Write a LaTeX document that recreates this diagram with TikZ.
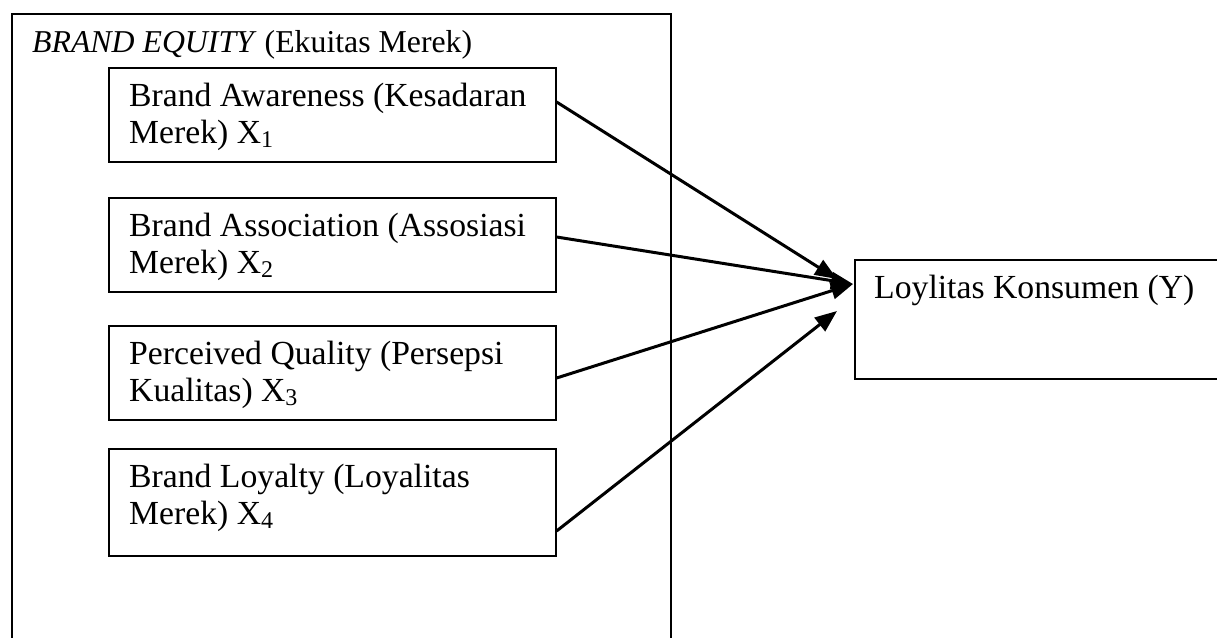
\documentclass[tikz,border=0pt]{standalone}
\usepackage{fontspec}
\setmainfont{Liberation Serif}
\usetikzlibrary{arrows.meta,calc}
\newcommand{\subx}[1]{\raisebox{-4pt}{\fontsize{24}{24}\selectfont #1}}
\begin{document}
\begin{tikzpicture}[x=1pt,y=-1pt,
  every node/.style={font=\fontsize{33.7}{37}\selectfont},
  framebox/.style={draw, line width=1.6pt, rectangle, inner sep=0pt, anchor=north west},
  ibox/.style={framebox, minimum width=447pt, minimum height=94pt},
  lbl/.style={anchor=base west, inner sep=0pt, align=left},
  conn/.style={line width=3pt, -{Triangle[length=22pt,width=17pt]}}
]
\useasboundingbox (0,0) rectangle (1217,637);
\clip (0,0) rectangle (1217,637);
\node[framebox, minimum width=659pt, minimum height=700pt] (eq) at (11,13) {};
\node[lbl, font=\fontsize{31.8}{35}\selectfont] (eqt) at (32,52) {\textit{BRAND EQUITY} (Ekuitas Merek)};

\node[ibox] (b1) at (108,67) {};
\node[lbl] (t1) at ($(b1.north west)+(21,76)$) {Brand Awareness (Kesadaran\\Merek) X\subx{1}};
\node[ibox] (b2) at (108,197) {};
\node[lbl] (t2) at ($(b2.north west)+(21,76)$) {Brand Association (Assosiasi\\Merek) X\subx{2}};
\node[ibox] (b3) at (108,325) {};
\node[lbl] (t3) at ($(b3.north west)+(21,76)$) {Perceived Quality (Persepsi\\Kualitas) X\subx{3}};
\node[ibox, minimum height=107pt] (b4) at (108,448) {};
\node[lbl] (t4) at ($(b4.north west)+(21,76)$) {Brand Loyalty (Loyalitas\\Merek) X\subx{4}};

\node[framebox, minimum width=380pt, minimum height=119pt] (y) at (854,259) {};
\node[lbl] (ty) at ($(y.north west)+(20,39)$) {Loylitas Konsumen (Y)};

\coordinate (e1) at (837,279);
\coordinate (e23) at ($(y.north west)+(-1,25)$);
\coordinate (e4) at (837,311);

\draw[conn] ($(b1.north east)+(0,35)$) -- (e1);
\draw[conn] ($(b2.north east)+(0,40)$) -- (e23);
\draw[conn] ($(b3.north east)+(0,53)$) -- (e23);
\draw[conn] ($(b4.north east)+(0,83)$) -- (e4);
\end{tikzpicture}
\end{document}
